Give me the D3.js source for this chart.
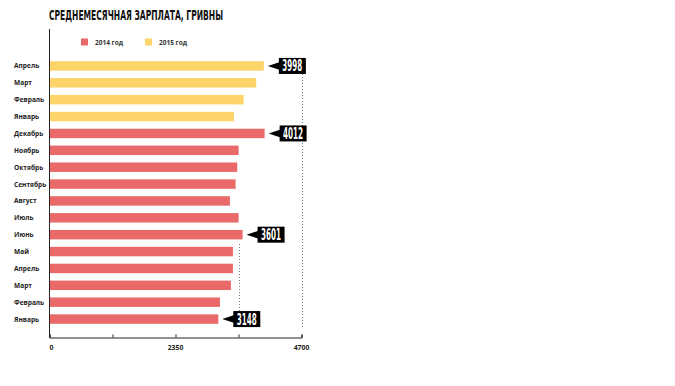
<!DOCTYPE html>
<html><head><meta charset="utf-8">
<script src="https://cdn.jsdelivr.net/npm/d3@7"></script>
<style>
body{margin:0;background:#fff;}
svg{display:block;}
</style></head>
<body><svg id="c" width="675" height="386"></svg>
<script>
const title = "СРЕДНЕМЕСЯЧНАЯ ЗАРПЛАТА, ГРИВНЫ";
const categories = ["Апрель","Март","Февраль","Январь","Декабрь","Ноябрь","Октябрь","Сентябрь","Август","Июль","Июнь","Май","Апрель","Март","Февраль","Январь"];
const years = ["2015","2015","2015","2015","2014","2014","2014","2014","2014","2014","2014","2014","2014","2014","2014","2014"];
const values = [3998,3855,3620,3440,4012,3527,3501,3471,3365,3527,3601,3421,3421,3384,3179,3148];
const callouts = [3998,4012,3601,3148];
const legendLabels = ["2014 год","2015 год"];
const tickValues = [0,1175,2350,3525,4700];
const tickLabels = ["0","","2350","","4700"];
const guideValues = [4700,3525];

const colors = {"2014":"#ea6a6a","2015":"#fdd46a"};
const condensed = "'DejaVu Sans Condensed','Liberation Sans Narrow','Roboto',sans-serif";
const svg = d3.select("#c");
const x = d3.scaleLinear().domain([0,4700]).range([49.5,301.5]);
const rowKeys = categories.map((c,i)=>i);
const y = d3.scaleBand().domain(rowKeys).range([57.5,327.5]).paddingInner(0.44).paddingOuter(0.22);

// title
svg.append("text").attr("x",49).attr("y",20)
  .attr("font-family",condensed).attr("font-stretch","condensed")
  .attr("font-weight","bold").attr("font-size",14).attr("fill","#111")
  .attr("textLength",174).attr("lengthAdjust","spacingAndGlyphs").text(title);

// legend
const lg = svg.append("g");
legendLabels.forEach((l,i)=>{
  const lx = 81 + i*64;
  lg.append("rect").attr("x",lx).attr("y",38.5).attr("width",7).attr("height",7).attr("fill",colors[l.slice(0,4)]);
  lg.append("text").attr("x",lx+14).attr("y",45).attr("font-family","'Open Sans',sans-serif")
    .attr("font-size",6.5).attr("font-weight","bold").attr("fill","#333").text(l);
});

// guides (dotted)
const guideTops = {4700:74, 3525:244};
guideValues.forEach(v=>{
  svg.append("line").attr("x1",Math.round(x(v))+0.5).attr("x2",Math.round(x(v))+0.5)
    .attr("y1",guideTops[v]).attr("y2",328).attr("stroke","#777").attr("stroke-width",1)
    .attr("stroke-dasharray","1,2");
});

// bars
svg.append("g").selectAll("rect").data(values).join("rect")
  .attr("x",x(0)).attr("y",(d,i)=>y(i)).attr("height",y.bandwidth())
  .attr("width",d=>x(d)-x(0)).attr("fill",(d,i)=>colors[years[i]]);

// category labels
svg.append("g").selectAll("text").data(categories).join("text")
  .attr("x",14).attr("y",(d,i)=>y(i)+y.bandwidth()/2+2.5)
  .attr("font-family","'Open Sans',sans-serif").attr("font-weight","bold")
  .attr("font-size",6.6).attr("fill","#222").text(d=>d);

// left axis line
svg.append("line").attr("x1",49.5).attr("x2",49.5).attr("y1",29).attr("y2",338).attr("stroke","#222").attr("stroke-width",1);

// bottom axis
const ax = svg.append("g").attr("transform","translate(0,337.5)")
  .call(d3.axisTop(x).tickValues(tickValues).tickSize(3).tickFormat(""));
ax.select(".domain").attr("stroke","#222");
ax.selectAll(".tick line").attr("stroke","#222");
svg.append("g").selectAll("text").data(tickValues).join("text")
  .attr("x",d=>x(d)).attr("y",350).attr("text-anchor",(d,i)=>i===0?"start":"middle")
  .attr("font-family","'Open Sans',sans-serif").attr("font-weight","bold")
  .attr("font-size",6.8).attr("fill","#222").text((d,i)=>tickLabels[i]);

// callouts
callouts.forEach(v=>{
  const i = values.indexOf(v);
  const cy = y(i)+y.bandwidth()/2;
  const tip = x(v)+4;
  const bx = x(v)+15;
  const g = svg.append("g");
  g.append("path").attr("d",`M${tip},${cy} L${bx+1},${cy-4} L${bx+1},${cy+4} Z`).attr("fill","#000");
  g.append("rect").attr("x",bx).attr("y",cy-8).attr("width",27).attr("height",16).attr("fill","#000");
  g.append("text").attr("x",bx+3.5).attr("y",cy+5.5)
    .attr("font-family",condensed).attr("font-stretch","condensed")
    .attr("font-weight","bold").attr("font-size",15).attr("fill","#fff")
    .attr("textLength",20).attr("lengthAdjust","spacingAndGlyphs").text(v);
});
</script></body></html>
